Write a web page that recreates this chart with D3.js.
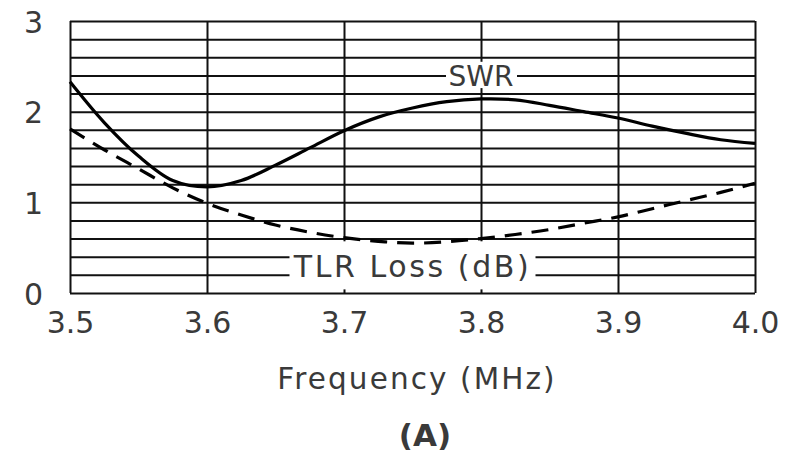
<!DOCTYPE html>
<html>
<head>
<meta charset="utf-8">
<script src="https://cdn.jsdelivr.net/npm/d3@7"></script>
<style>
  html, body { margin: 0; padding: 0; background: #fff; }
  svg { display: block; }
  text { font-family: "DejaVu Sans", sans-serif; fill: #3a3a3a; }
</style>
</head>
<body>
<svg id="chart" width="794" height="453"></svg>
<script>
// Frequency samples (MHz)
const freq = [3.500, 3.525, 3.550, 3.575, 3.600, 3.625, 3.650, 3.675, 3.700, 3.725, 3.750,
              3.775, 3.800, 3.825, 3.850, 3.875, 3.900, 3.925, 3.950, 3.975, 4.000];
// SWR at each frequency
const swr = [2.33, 1.88, 1.51, 1.24, 1.17, 1.24, 1.41, 1.60, 1.79, 1.94, 2.04,
             2.11, 2.14, 2.13, 2.07, 2.00, 1.93, 1.84, 1.76, 1.69, 1.65];
// Transmission-line-plus-matching loss (dB)
const tlrLoss = [1.81, 1.58, 1.37, 1.16, 0.99, 0.86, 0.75, 0.67, 0.61, 0.57, 0.55,
                 0.565, 0.60, 0.645, 0.70, 0.77, 0.84, 0.93, 1.02, 1.11, 1.21];

const xTicks = [3.5, 3.6, 3.7, 3.8, 3.9, 4.0];
const xTickLabels = ["3.5", "3.6", "3.7", "3.8", "3.9", "4.0"];
const yTicks = [0, 1, 2, 3];
const yGrid = d3.range(0, 3.0001, 0.2);

const svg = d3.select("#chart");
const plotL = 70, plotR = 755, plotT = 21, plotB = 293;
const x = d3.scaleLinear().domain([3.5, 4.0]).range([plotL, plotR]);
const y = d3.scaleLinear().domain([0, 3]).range([plotB, plotT]);

// horizontal grid every 0.2
svg.append("g")
  .attr("transform", `translate(${plotL},0)`)
  .call(d3.axisLeft(y).tickValues(yGrid).tickSize(-(plotR - plotL)).tickFormat(""))
  .call(g => g.select(".domain").remove())
  .call(g => g.selectAll("line").attr("stroke", "#111").attr("stroke-width", 2));

// vertical grid every 0.1 MHz
svg.append("g")
  .attr("transform", `translate(0,${plotB})`)
  .call(d3.axisBottom(x).tickValues(xTicks).tickSize(-(plotB - plotT)).tickFormat(""))
  .call(g => g.select(".domain").remove())
  .call(g => g.selectAll("line").attr("stroke", "#111").attr("stroke-width", 2));

// white boxes behind the curve labels
svg.append("rect").attr("x", x(3.8) - 35).attr("y", y(2.55)).attr("width", 71)
  .attr("height", y(2.26) - y(2.55)).attr("fill", "#fff");
svg.append("rect").attr("x", x(3.75) - 123).attr("y", y(0.57)).attr("width", 246)
  .attr("height", y(0.04) - y(0.57)).attr("fill", "#fff");

// curves
const line = (vals) => d3.line()
  .x((d, i) => x(freq[i]))
  .y(d => y(d))
  .curve(d3.curveCatmullRom.alpha(0.5))(vals);

svg.append("path").attr("d", line(tlrLoss))
  .attr("fill", "none").attr("stroke", "#000").attr("stroke-width", 3.2)
  .attr("stroke-dasharray", "17,10");
svg.append("path").attr("d", line(swr))
  .attr("fill", "none").attr("stroke", "#000").attr("stroke-width", 3.2);

// curve labels
svg.append("text").attr("x", x(3.8)).attr("y", y(2.39) + 10)
  .attr("text-anchor", "middle").attr("font-size", 28).text("SWR");
svg.append("text").attr("x", x(3.75)).attr("y", y(0.305) + 12)
  .attr("text-anchor", "middle").attr("font-size", 30).attr("letter-spacing", 2.6)
  .text("TLR Loss (dB)");

// x tick labels
svg.append("g")
  .attr("transform", `translate(0,${plotB})`)
  .call(d3.axisBottom(x).tickValues(xTicks).tickSize(0).tickPadding(0)
    .tickFormat((d, i) => xTickLabels[i]))
  .call(g => g.select(".domain").remove())
  .call(g => g.selectAll("text").attr("font-size", 30)
    .attr("dy", null).attr("y", 40));

// y tick labels
svg.append("g")
  .attr("transform", `translate(43,0)`)
  .call(d3.axisLeft(y).tickValues(yTicks).tickSize(0).tickPadding(0).tickFormat(d3.format("d")))
  .call(g => g.select(".domain").remove())
  .call(g => g.selectAll("text").attr("font-size", 30)
    .attr("dy", null).attr("y", 11));

svg.selectAll(".tick text").attr("fill", "#3a3a3a");
svg.selectAll("g").attr("font-family", null).attr("font-size", null);

// axis title and panel tag
svg.append("text").attr("x", 417).attr("y", 389).attr("text-anchor", "middle")
  .attr("font-size", 29.5).attr("letter-spacing", 2.1).text("Frequency (MHz)");
svg.append("text").attr("x", 425).attr("y", 446).attr("text-anchor", "middle")
  .attr("font-size", 31).attr("font-weight", "bold").attr("fill", "#111").text("(A)");
</script>
</body>
</html>
